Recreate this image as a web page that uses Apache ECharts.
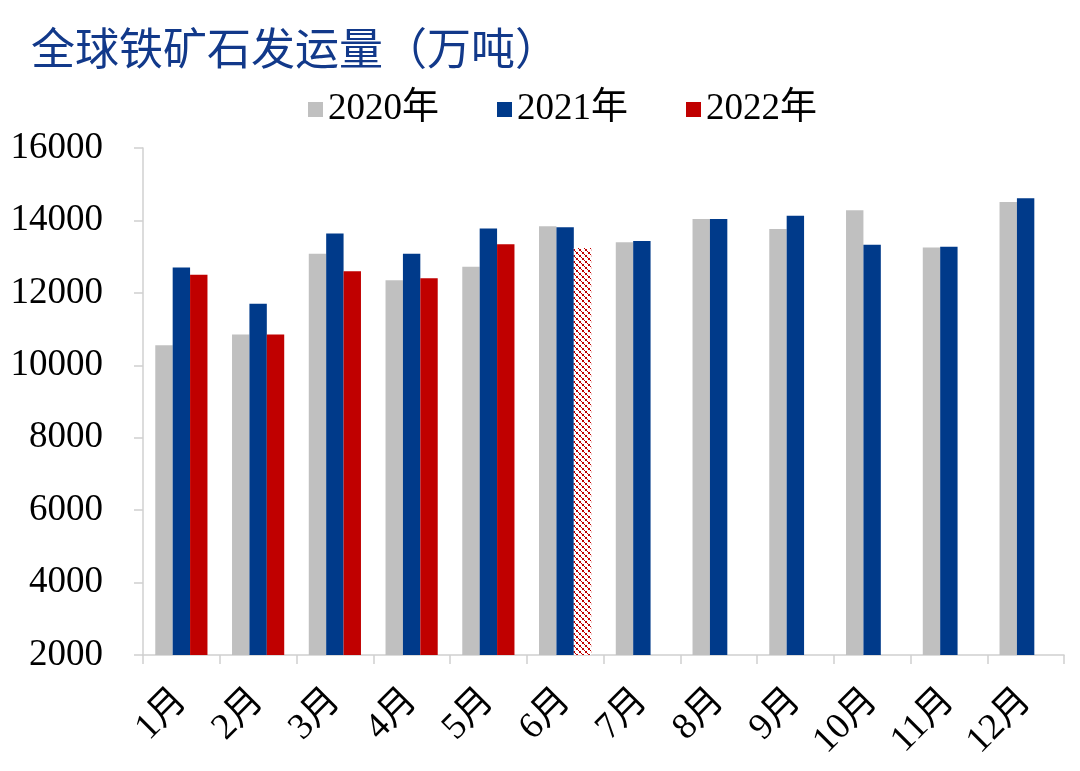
<!DOCTYPE html>
<html>
<head>
<meta charset="utf-8">
<script src="https://cdn.jsdelivr.net/npm/echarts@6/dist/echarts.min.js"></script>
<style>html,body{margin:0;padding:0;background:#fff;}#c{width:1080px;height:771px;}</style>
</head>
<body>
<div id="c"></div>
<script>
const categories = ['1月','2月','3月','4月','5月','6月','7月','8月','9月','10月','11月','12月'];
const series2020 = [10550, 10850, 13080, 12350, 12720, 13840, 13400, 14040, 13760, 14280, 13250, 14510];
const series2021 = [12700, 11700, 13640, 13080, 13780, 13810, 13430, 14040, 14130, 13330, 13270, 14610];
const series2022 = [12500, 10850, 12600, 12400, 13340, 13240, null, null, null, null, null, null];
const forecastIndex = 5; // 6月 2022 value drawn with dotted pattern
const yTicks = [2000, 4000, 6000, 8000, 10000, 12000, 14000, 16000];
const legendNames = ['2020年', '2021年', '2022年'];

// dotted red pattern
const pc = document.createElement('canvas');
pc.width = 6; pc.height = 6;
const g = pc.getContext('2d');
g.fillStyle = '#ffffff'; g.fillRect(0, 0, 6, 6);
g.fillStyle = '#C00000';
g.fillRect(0, 0, 2, 2); g.fillRect(3, 3, 2, 2); g.fillRect(2, 2, 1, 1); g.fillRect(5, 5, 1, 1);

const serif = "'Liberation Serif','Times New Roman','Noto Sans CJK SC',serif";
const chart = echarts.init(document.getElementById('c'));
const d2022 = series2022.map((v, i) => i === forecastIndex
  ? { value: v, itemStyle: { color: { image: pc, repeat: 'repeat' } } }
  : v);

chart.setOption({
  animation: false,
  title: {
    text: '全球铁矿石发运量（万吨）',
    left: 26, top: 21,
    textStyle: { fontFamily: "'Noto Sans CJK SC',sans-serif", fontSize: 44, fontWeight: 'normal', color: '#12398A' }
  },
  legend: {
    data: legendNames,
    left: 303, top: 86,
    itemWidth: 15, itemHeight: 15, itemGap: 58,
    icon: 'rect',
    textStyle: { fontFamily: serif, fontSize: 37, color: '#000' }
  },
  grid: { left: 143, right: 16, top: 148, bottom: 116, containLabel: false },
  xAxis: {
    type: 'category',
    data: categories,
    axisLine: { lineStyle: { color: '#D0D0D0', width: 1.5 } },
    axisTick: { show: true, length: 9, lineStyle: { color: '#D0D0D0', width: 1.5 } },
    axisLabel: { rotate: 45, margin: 40, fontFamily: serif, fontSize: 37, color: '#000' }
  },
  yAxis: {
    type: 'value',
    min: yTicks[0], max: yTicks[yTicks.length - 1], interval: 2000,
    axisLine: { show: true, lineStyle: { color: '#D0D0D0', width: 1.5 } },
    axisTick: { show: true, length: 9, lineStyle: { color: '#D0D0D0', width: 1.5 } },
    splitLine: { show: false },
    axisLabel: { margin: 40, fontFamily: serif, fontSize: 37, color: '#000', formatter: v => String(v) }
  },
  series: [
    { name: legendNames[0], type: 'bar', data: series2020, itemStyle: { color: '#C0C0C0' }, barGap: '0%', barCategoryGap: '32%' },
    { name: legendNames[1], type: 'bar', data: series2021, itemStyle: { color: '#003A8A' } },
    { name: legendNames[2], type: 'bar', data: d2022, itemStyle: { color: '#C00000' } }
  ]
});
</script>
</body>
</html>
